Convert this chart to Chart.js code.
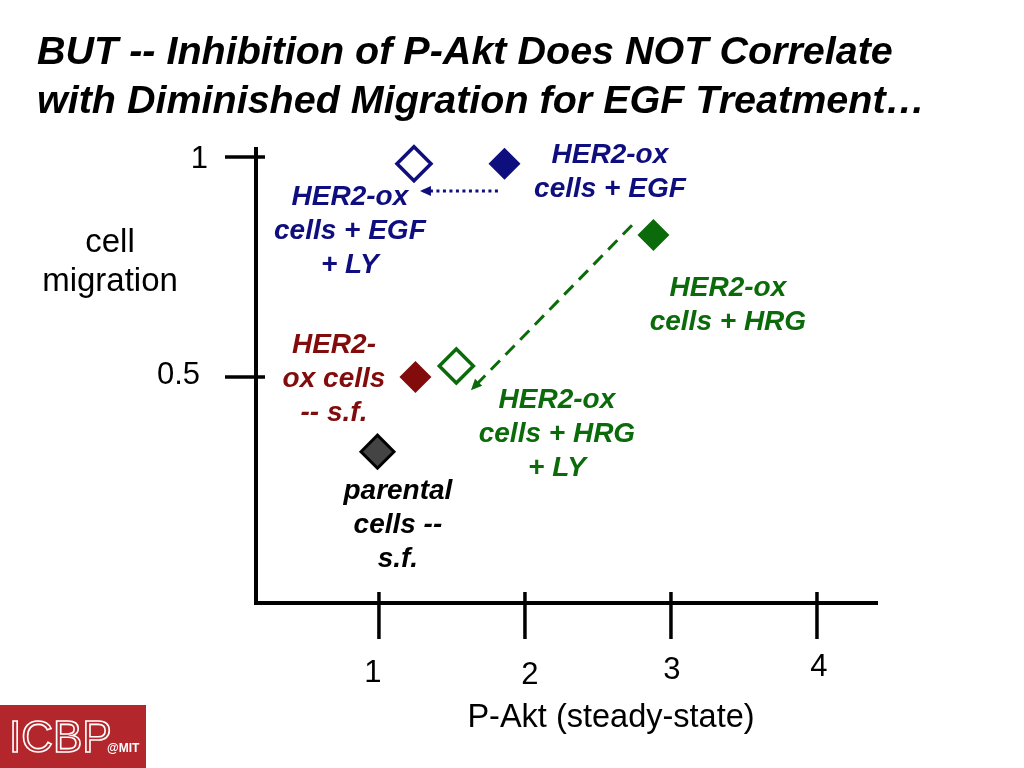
<!DOCTYPE html>
<html>
<head>
<meta charset="utf-8">
<script src="https://cdn.jsdelivr.net/npm/chart.js@4.4.1/dist/chart.umd.min.js"></script>
<style>
  html, body { margin: 0; padding: 0; background: #fff; overflow: hidden; }
  canvas { display: block; }
</style>
</head>
<body>
<canvas id="slideChart" width="1024" height="768"></canvas>
<script>
// data
const groups = ['parental cells -- s.f.', 'HER2-ox cells -- s.f.', 'HER2-ox cells + EGF',
                'HER2-ox cells + EGF + LY', 'HER2-ox cells + HRG', 'HER2-ox cells + HRG + LY'];
const pAkt = [0.99, 1.25, 1.86, 1.24, 2.88, 1.53];
const migration = [0.33, 0.50, 0.985, 0.985, 0.823, 0.525];
const xTicks = [1, 2, 3, 4];
const xTickLabels = ['1', '2', '3', '4'];
const yTicks = [0.5, 1];
const yTickLabels = ['0.5', '1'];
// LY294002 shift arrows (start -> tip)
const egfArrowX = [1.815, 1.281];
const egfArrowY = [0.923, 0.923];
const hrgArrowX = [2.733, 1.630];
const hrgArrowY = [0.845, 0.470];

const NAVY = '#0e0e7e', GREEN = '#0b6b0b', MAROON = '#820b0b';
const FONT = '"Liberation Sans", Arial, sans-serif';

const markerStyle = [
  { fill: '#444444', border: '#000000', r: 16.5, bw: 3 },
  { fill: MAROON, border: MAROON, r: 16, bw: 0 },
  { fill: NAVY, border: NAVY, r: 16, bw: 0 },
  { fill: '#ffffff', border: NAVY, r: 17, bw: 3.5 },
  { fill: GREEN, border: GREEN, r: 16, bw: 0 },
  { fill: '#ffffff', border: GREEN, r: 17, bw: 3.5 }
];

// text callouts, anchored in data units (first line centre), 34px line step
const notes = [
  { x: 1.13, y: 0.239, color: '#000000', lines: ['parental', 'cells --', 's.f.'] },
  { x: 0.692, y: 0.573, color: MAROON, lines: ['HER2-', 'ox cells', '-- s.f.'] },
  { x: 2.582, y: 1.005, color: NAVY, lines: ['HER2-ox', 'cells + EGF'] },
  { x: 0.801, y: 0.909, color: NAVY, lines: ['HER2-ox', 'cells + EGF', '+ LY'] },
  { x: 3.39, y: 0.702, color: GREEN, lines: ['HER2-ox', 'cells + HRG'] },
  { x: 2.219, y: 0.448, color: GREEN, lines: ['HER2-ox', 'cells + HRG', '+ LY'] }
];

const pointSets = groups.map((g, i) => ({
  label: g,
  data: [{ x: pAkt[i], y: migration[i] }],
  pointStyle: 'rectRot',
  pointRadius: markerStyle[i].r,
  pointHoverRadius: markerStyle[i].r,
  backgroundColor: markerStyle[i].fill,
  borderColor: markerStyle[i].border,
  borderWidth: markerStyle[i].bw,
  showLine: false,
  clip: false
}));

const arrowSets = [
  { label: 'EGF + LY shift', xs: egfArrowX, ys: egfArrowY, color: NAVY, dash: [3, 3.5] },
  { label: 'HRG + LY shift', xs: hrgArrowX, ys: hrgArrowY, color: GREEN, dash: [13, 8] }
].map(a => ({
  label: a.label,
  data: a.xs.map((x, k) => ({ x: x, y: a.ys[k] })),
  showLine: true,
  borderColor: a.color,
  backgroundColor: a.color,
  borderWidth: 3,
  borderDash: a.dash,
  pointRadius: 0,
  arrow: true
}));

const slidePlugin = {
  id: 'slide',
  beforeDatasetsDraw(chart) {
    const { ctx, chartArea: ca, scales: { x, y } } = chart;
    ctx.save();
    ctx.strokeStyle = '#000';
    ctx.lineCap = 'butt';
    // axes
    ctx.lineWidth = 4;
    ctx.beginPath();
    ctx.moveTo(ca.left, ca.top);
    ctx.lineTo(ca.left, ca.bottom);
    ctx.lineTo(ca.right, ca.bottom);
    ctx.stroke();
    // ticks cross the axes
    ctx.lineWidth = 3.5;
    xTicks.forEach(v => {
      const px = x.getPixelForValue(v);
      ctx.beginPath();
      ctx.moveTo(px, ca.bottom - 11);
      ctx.lineTo(px, ca.bottom + 36);
      ctx.stroke();
    });
    yTicks.forEach(v => {
      const py = y.getPixelForValue(v);
      ctx.beginPath();
      ctx.moveTo(ca.left - 31, py);
      ctx.lineTo(ca.left + 9, py);
      ctx.stroke();
    });
    ctx.restore();
  },
  afterDatasetsDraw(chart) {
    const { ctx } = chart;
    // arrowheads at line tips
    chart.data.datasets.forEach((ds, i) => {
      if (!ds.arrow) return;
      const pts = chart.getDatasetMeta(i).data;
      const a = pts[pts.length - 2], b = pts[pts.length - 1];
      const ang = Math.atan2(b.y - a.y, b.x - a.x);
      ctx.save();
      ctx.translate(b.x, b.y);
      ctx.rotate(ang);
      ctx.fillStyle = ds.borderColor;
      ctx.beginPath();
      ctx.moveTo(0, 0);
      ctx.lineTo(-11, -5);
      ctx.lineTo(-11, 5);
      ctx.closePath();
      ctx.fill();
      ctx.restore();
    });
  },
  afterDraw(chart) {
    const { ctx, chartArea: ca, scales: { x, y } } = chart;
    ctx.save();
    // title
    ctx.fillStyle = '#000';
    ctx.textAlign = 'left';
    ctx.textBaseline = 'alphabetic';
    ctx.font = 'italic bold 39.5px ' + FONT;
    ctx.fillText('BUT -- Inhibition of P-Akt Does NOT Correlate', 37, 64);
    ctx.fillText('with Diminished Migration for EGF Treatment\u2026', 37, 113);

    // tick labels
    ctx.font = '31px ' + FONT;
    ctx.textAlign = 'center';
    ctx.textBaseline = 'middle';
    const xLabelShift = [[-6, 0], [5, 2], [1, -3], [2, -6]];
    xTicks.forEach((v, i) => {
      ctx.fillText(xTickLabels[i], x.getPixelForValue(v) + xLabelShift[i][0], ca.bottom + 70 + xLabelShift[i][1]);
    });
    ctx.textAlign = 'right';
    yTicks.forEach((v, i) => {
      ctx.fillText(yTickLabels[i], (v === 1 ? 208 : 200), y.getPixelForValue(v) + (v === 1 ? 2 : -2));
    });

    // axis titles
    ctx.textAlign = 'center';
    ctx.font = '33px ' + FONT;
    ctx.fillText('cell', 110, 243);
    ctx.fillText('migration', 110, 282);
    ctx.font = '32.5px ' + FONT;
    ctx.fillText('P-Akt (steady-state)', 611, 718);

    // callouts
    ctx.font = 'italic bold 28px ' + FONT;
    notes.forEach(n => {
      ctx.fillStyle = n.color;
      const cx = x.getPixelForValue(n.x), cy = y.getPixelForValue(n.y);
      n.lines.forEach((t, k) => ctx.fillText(t, cx, cy + k * 34));
    });

    // ICBP logo block
    ctx.fillStyle = '#b3272c';
    ctx.fillRect(0, 705, 146, 63);
    ctx.strokeStyle = '#ffffff';
    ctx.lineWidth = 1.6;
    ctx.textAlign = 'left';
    ctx.textBaseline = 'alphabetic';
    ctx.font = '44px ' + FONT;
    ctx.strokeText('ICBP', 9, 752);
    ctx.fillStyle = '#ffffff';
    ctx.font = 'bold 12px ' + FONT;
    ctx.fillText('@MIT', 107, 752);
    ctx.restore();
  }
};

new Chart(document.getElementById('slideChart'), {
  type: 'scatter',
  data: { datasets: [...arrowSets, ...pointSets] },
  options: {
    responsive: false,
    animation: false,
    layout: { padding: { left: 256, right: 146, top: 147, bottom: 165 } },
    plugins: { legend: { display: false }, tooltip: { enabled: false } },
    scales: {
      x: { type: 'linear', min: 0.158, max: 4.418, display: false },
      y: { type: 'linear', min: -0.014, max: 1.023, display: false }
    }
  },
  plugins: [slidePlugin]
});
</script>
</body>
</html>
